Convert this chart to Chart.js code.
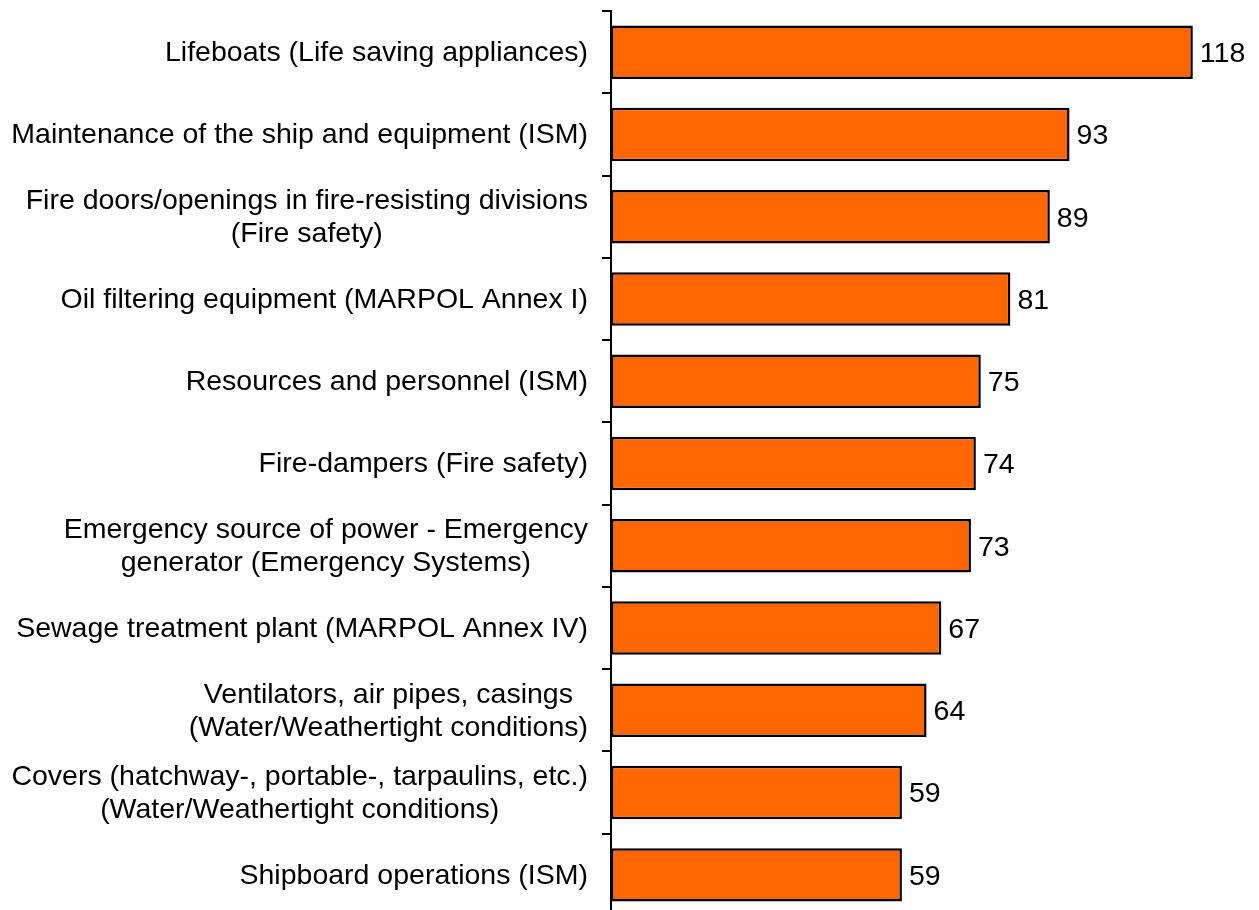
<!DOCTYPE html>
<html>
<head>
<meta charset="utf-8">
<script src="https://cdn.jsdelivr.net/npm/chart.js@4/dist/chart.umd.min.js"></script>
<style>
  html, body { margin: 0; padding: 0; background: #fff; overflow: hidden; }
  #wrap { position: relative; width: 1259px; height: 916px; }
</style>
</head>
<body>
<div id="wrap"><canvas id="c"></canvas></div>
<script>
const categories = [
  ["Lifeboats (Life saving appliances)"],
  ["Maintenance of the ship and equipment (ISM)"],
  ["Fire doors/openings in fire-resisting divisions", "(Fire safety)"],
  ["Oil filtering equipment (MARPOL Annex I)"],
  ["Resources and personnel (ISM)"],
  ["Fire-dampers (Fire safety)"],
  ["Emergency source of power - Emergency", "generator (Emergency Systems)"],
  ["Sewage treatment plant (MARPOL Annex IV)"],
  ["Ventilators, air pipes, casings", "(Water/Weathertight conditions)"],
  ["Covers (hatchway-, portable-, tarpaulins, etc.)", "(Water/Weathertight conditions)"],
  ["Shipboard operations (ISM)"]
];
const values = [118, 93, 89, 81, 75, 74, 73, 67, 64, 59, 59];

const FONT = '28.5px "Liberation Sans", Arial, sans-serif';

const customLabels = {
  id: 'customLabels',
  afterDraw(chart) {
    const ctx = chart.ctx;
    const yScale = chart.scales.y;
    ctx.save();
    ctx.font = FONT;
    ctx.fillStyle = '#000';
    ctx.textBaseline = 'middle';
    const rightEdge = yScale.right - 23;
    const lineH = 33;
    categories.forEach((lines, i) => {
      const cy = yScale.getPixelForValue(i);
      const maxW = Math.max(...lines.map(l => ctx.measureText(l).width));
      const cx = rightEdge - maxW / 2;
      ctx.textAlign = 'center';
      const startY = cy - (lines.length - 1) * lineH / 2 + 1;
      lines.forEach((l, j) => ctx.fillText(l, cx, startY + j * lineH));
    });
    const meta = chart.getDatasetMeta(0);
    ctx.textAlign = 'left';
    meta.data.forEach((bar, i) => {
      ctx.fillText(String(values[i]), bar.x + 7, bar.y + 2);
    });
    ctx.restore();
  }
};

new Chart(document.getElementById('c'), {
  type: 'bar',
  data: {
    labels: categories.map(l => l.join(' ')),
    datasets: [{
      data: values,
      backgroundColor: '#FF6600',
      borderColor: '#000000',
      borderWidth: 2.5,
      borderSkipped: false,
      categoryPercentage: 1,
      barPercentage: 0.65
    }]
  },
  options: {
    indexAxis: 'y',
    responsive: true,
    maintainAspectRatio: false,
    animation: false,
    layout: { padding: { top: 11, right: 7, bottom: 0, left: 0 } },
    plugins: { legend: { display: false }, tooltip: { enabled: false } },
    scales: {
      x: { display: false, min: 0, max: 130 },
      y: {
        afterFit(s) { s.width = 611; },
        border: { display: true, color: '#000', width: 2 },
        grid: { offset: true, drawOnChartArea: false, drawTicks: true, tickLength: 9, color: '#000', lineWidth: 2 },
        ticks: { display: false }
      }
    }
  },
  plugins: [customLabels]
});
</script>
</body>
</html>
